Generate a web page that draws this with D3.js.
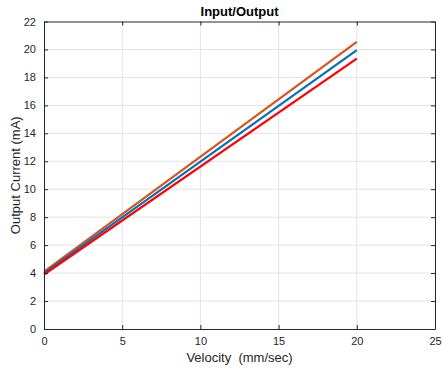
<!DOCTYPE html>
<html>
<head>
<meta charset="utf-8">
<script src="https://cdn.jsdelivr.net/npm/d3@7"></script>
<style>
  body { margin: 0; background: #fff; }
  svg { font-family: "Liberation Sans", Arial, sans-serif; }
</style>
</head>
<body>
<svg id="chart" width="442" height="371"></svg>
<script>
const velocity = [0, 20];
const seriesNames = ["upper", "nominal", "lower"];
const seriesColors = ["#D95319", "#0072BD", "#FF0000"];
const upperValues = [4.1, 20.55];
const nominalValues = [4.0, 19.95];
const lowerValues = [3.9, 19.35];
const xTicks = [0, 5, 10, 15, 20, 25];
const yTicks = [0, 2, 4, 6, 8, 10, 12, 14, 16, 18, 20, 22];

const svg = d3.select("#chart");
const margin = { top: 21.5, right: 7, bottom: 42, left: 44 };
const width = +svg.attr("width") - margin.left - margin.right;
const height = +svg.attr("height") - margin.top - margin.bottom;
const axisColor = "#262626";

const x = d3.scaleLinear().domain([0, 25]).range([0, width]);
const y = d3.scaleLinear().domain([0, 22]).range([height, 0]);

const g = svg.append("g").attr("transform", `translate(${margin.left},${margin.top})`);

// grid
g.append("g")
  .selectAll("line")
  .data(xTicks.slice(1, -1))
  .enter()
  .append("line")
  .attr("x1", (d) => x(d))
  .attr("x2", (d) => x(d))
  .attr("y1", 0)
  .attr("y2", height)
  .attr("stroke", "#e3e3e3");

g.append("g")
  .selectAll("line")
  .data(yTicks.slice(1, -1))
  .enter()
  .append("line")
  .attr("x1", 0)
  .attr("x2", width)
  .attr("y1", (d) => y(d))
  .attr("y2", (d) => y(d))
  .attr("stroke", "#e3e3e3");

// lines
const series = [upperValues, nominalValues, lowerValues];
const line = d3
  .line()
  .x((d, i) => x(velocity[i]))
  .y((d) => y(d));

g.append("g")
  .selectAll("path")
  .data(series)
  .enter()
  .append("path")
  .attr("class", (d, i) => seriesNames[i])
  .attr("d", line)
  .attr("fill", "none")
  .attr("stroke", (d, i) => seriesColors[i])
  .attr("stroke-width", 2.2);

// axes (inward ticks, box on)
function styleAxis(sel, showText) {
  sel.select(".domain").attr("stroke", axisColor);
  sel.selectAll(".tick line").attr("stroke", axisColor);
  sel.selectAll(".tick text")
    .attr("fill", axisColor)
    .style("font-size", "11px");
  if (!showText) sel.selectAll(".tick text").remove();
}

g.append("g")
  .attr("transform", `translate(0,${height})`)
  .call(d3.axisBottom(x).tickValues(xTicks).tickSizeInner(-4).tickSizeOuter(0).tickPadding(8))
  .call((s) => styleAxis(s, true));

g.append("g")
  .call(d3.axisTop(x).tickValues(xTicks).tickSizeInner(-4).tickSizeOuter(0))
  .call((s) => styleAxis(s, false));

g.append("g")
  .call(d3.axisLeft(y).tickValues(yTicks).tickSizeInner(-4).tickSizeOuter(0).tickPadding(8))
  .call((s) => styleAxis(s, true));

g.append("g")
  .attr("transform", `translate(${width},0)`)
  .call(d3.axisRight(y).tickValues(yTicks).tickSizeInner(-4).tickSizeOuter(0))
  .call((s) => styleAxis(s, false));

g.selectAll(".domain").attr("stroke-width", 1);

// labels
svg.append("text")
  .attr("x", margin.left + width / 2)
  .attr("y", 16)
  .attr("text-anchor", "middle")
  .attr("fill", "#000")
  .style("font-size", "13px")
  .style("font-weight", "bold")
  .text("Input/Output");

svg.append("text")
  .attr("x", margin.left + width / 2)
  .attr("y", 362)
  .attr("text-anchor", "middle")
  .attr("fill", axisColor)
  .style("font-size", "13px")
  .attr("xml:space", "preserve")
  .text("Velocity  (mm/sec)");

svg.append("text")
  .attr("transform", `translate(20,${margin.top + height / 2}) rotate(-90)`)
  .attr("text-anchor", "middle")
  .attr("fill", axisColor)
  .style("font-size", "13px")
  .text("Output Current (mA)");
</script>
</body>
</html>
